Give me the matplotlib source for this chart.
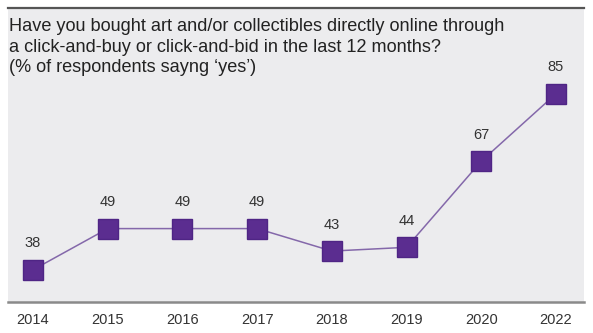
import matplotlib.pyplot as plt

plt.rcParams["font.family"] = ["Liberation Sans", "DejaVu Sans"]

years = ["2014", "2015", "2016", "2017", "2018", "2019", "2020", "2022"]
share_yes = [38, 49, 49, 49, 43, 44, 67, 85]

title = ("Have you bought art and/or collectibles directly online through\n"
         "a click-and-buy or click-and-bid in the last 12 months?\n"
         "(% of respondents sayng \u2018yes\u2019)")

fig = plt.figure(figsize=(5.93, 3.33), dpi=100)
ax = fig.add_axes([8 / 593, 31 / 333, 576 / 593, 294 / 333])
ax.set_facecolor("#ececee")

x = list(range(len(years)))
ax.plot(x, share_yes, color="#8468aa", linewidth=1.1, zorder=2)
ax.plot(x, share_yes, linestyle="", marker="s", markersize=15,
        color="#5b2d90", markeredgecolor="#4f2585", zorder=3)

for xi, v in zip(x, share_yes):
    ax.annotate(str(v), (xi, v), xytext=(0, 14), textcoords="offset points",
                ha="center", va="bottom", fontsize=10.5, color="#333333")

ax.set_xlim(-0.335, 7.375)
ax.set_ylim(29.4, 107.9)
ax.set_xticks(x)
ax.set_xticklabels(years, fontsize=10.5, color="#333333")
ax.tick_params(axis="x", length=0, pad=8)
ax.set_yticks([])

for side in ["left", "right"]:
    ax.spines[side].set_visible(False)
ax.spines["top"].set_color("#555555")
ax.spines["top"].set_linewidth(1.6)
ax.spines["bottom"].set_color("#8a8a8a")
ax.spines["bottom"].set_linewidth(1.8)

ax.text(0.002, 0.965, title, transform=ax.transAxes, ha="left", va="top",
        fontsize=13.1, color="#222222", linespacing=1.27)

fig.savefig("out.png", dpi=100)
